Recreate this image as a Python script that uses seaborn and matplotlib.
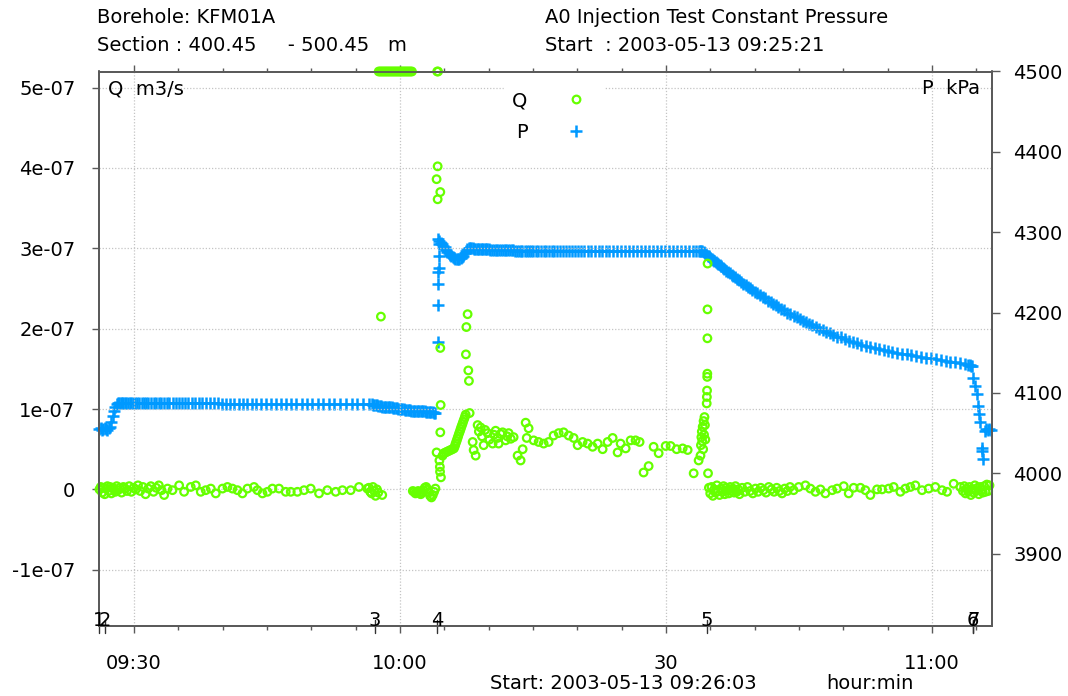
import numpy as np
import pandas as pd
import matplotlib
matplotlib.use("Agg")
import matplotlib.pyplot as plt
import matplotlib.ticker as mticker
import matplotlib.transforms as mtransforms
from matplotlib.lines import Line2D
import seaborn as sns

# ---------------------------------------------------------------------------
# Time axis: minutes after 09:00 on 2003-05-13
# ---------------------------------------------------------------------------
x_start, x_end = 26.05, 126.75
major_ticks = [30, 60, 90, 120]
major_labels = ["09:30", "10:00", "30", "11:00"]

q_lo, q_hi = -1.7e-07, 5.2e-07
q_ticks = [-1e-07, 0, 1e-07, 2e-07, 3e-07, 4e-07, 5e-07]
q_tick_labels = ["-1e-07", "0", "1e-07", "2e-07", "3e-07", "4e-07", "5e-07"]

p_lo, p_hi = 3810, 4500
p_ticks = [3900, 4000, 4100, 4200, 4300, 4400, 4500]

# test phase markers along the time axis
event_time = [26.05, 26.7, 57.15, 64.2, 94.6, 124.6, 124.66]
event_label = ["1", "2", "3", "4", "5", "6", "7"]

# ---------------------------------------------------------------------------
# Flow rate Q (units of 1e-07 m3/s); 6.5 = beyond the upper scale limit
# ---------------------------------------------------------------------------
q_time = [
    26.10, 26.25, 26.40, 26.55, 26.70, 26.85, 27.00, 27.15, 27.30, 27.45,
    27.60, 27.75, 27.90, 28.05, 28.20, 28.40, 28.60, 28.80, 29.00, 29.20,
    29.45, 29.70, 29.95, 30.20, 30.45, 30.70, 31.00, 31.30, 31.60, 31.90,
    32.20, 32.50, 32.80, 33.10, 33.40,
    33.78, 34.34, 35.09, 35.65, 36.40, 36.97, 37.53, 38.09, 38.66, 39.22,
    39.98, 40.54, 41.10, 41.67, 42.23, 42.80, 43.54, 43.92, 44.49, 45.05,
    45.61, 46.36, 47.11, 47.68, 48.43, 49.18, 49.93, 50.87, 51.81, 52.75,
    53.51, 54.44, 55.38, 56.32,
    56.50, 56.65, 56.80, 56.95, 57.10, 57.25, 57.40, 57.55, 57.85, 58.00,
    57.60, 57.75, 57.90, 58.05, 58.20, 58.35, 58.50, 58.65, 58.80, 58.95,
    59.10, 59.25, 59.40, 59.55, 59.70, 59.85, 60.00, 60.15, 60.30, 60.45,
    60.60, 60.75, 60.90, 61.05, 61.20, 61.35, 64.20, 64.30,
    61.45, 61.60, 61.75, 61.90, 62.05, 62.20, 62.35, 62.50, 62.65, 62.80,
    62.95, 63.10, 63.25, 63.40, 63.55, 63.70, 63.85, 64.00,
    64.25, 64.13, 64.55, 64.25, 64.55, 64.59, 64.55, 64.13, 64.45, 64.50,
    64.52, 64.62,
    64.80, 64.96, 65.15, 65.34, 65.53, 65.72, 65.90, 66.09, 66.20, 66.28,
    66.38, 66.47, 66.56, 66.65, 66.75, 66.84, 66.93, 67.03, 67.12, 67.22,
    67.32, 67.41,
    67.63, 67.49, 67.44, 67.71, 67.78, 67.86,
    68.20, 68.31, 68.54, 68.76, 68.90, 69.10, 69.25, 69.44, 69.60, 69.89,
    70.10, 70.45, 70.60, 70.79, 71.00, 71.13, 71.35, 71.58, 71.92, 72.10,
    72.26, 72.50, 72.82, 73.27, 73.61, 73.84, 74.18, 74.51, 74.30, 75.08,
    75.64, 76.21, 76.77, 77.33, 77.90, 78.46, 79.03, 79.59, 80.04, 80.60,
    81.17, 81.73, 82.30, 82.86, 83.42, 83.99, 84.55, 84.89, 85.46, 86.02,
    86.58, 87.03, 87.48, 88.05, 88.61, 89.18, 89.97, 90.53, 91.21, 91.89,
    92.45, 93.13, 93.69,
    93.90, 93.95, 94.00, 94.05, 94.10, 94.15, 94.20, 94.25, 94.30, 94.35,
    94.40, 94.45, 94.60, 94.62, 94.64, 94.66, 94.67, 94.68, 94.69, 94.70,
    94.75,
    94.85, 95.00, 95.15, 95.30, 95.45, 95.60, 95.75, 95.90, 96.05, 96.20,
    96.35, 96.50, 96.65, 96.80, 96.95, 97.10, 97.25, 97.40, 97.55, 97.70,
    97.85, 98.00, 98.15, 98.30, 98.60, 98.90, 99.20, 99.50, 99.80, 100.10,
    100.40, 100.70, 101.00, 101.30, 101.60, 101.90, 102.20, 102.50, 102.80,
    103.10, 103.40, 103.70, 104.00, 104.40,
    104.98, 105.74, 106.30, 106.87, 107.43, 107.99, 108.75, 109.31, 110.06,
    110.62, 111.18, 111.94, 112.50, 113.06, 113.82, 114.38, 115.13, 115.69,
    116.45, 117.01, 117.58, 118.14, 118.89, 119.64, 120.39, 121.15, 121.71,
    122.46, 123.21,
    123.50, 123.65, 123.80, 123.95, 124.10, 124.25, 124.40, 124.55, 124.70,
    124.85, 125.00, 125.15, 125.30, 125.45, 125.60, 125.75, 125.90, 126.05,
    126.20, 126.35, 126.50,
]
q_val = [
    0.00, 0.03, -0.04, 0.02, -0.06, 0.01, 0.04, -0.02, 0.03, -0.05,
    0.02, 0.00, -0.03, 0.04, -0.01, 0.02, -0.04, 0.03, 0.01, -0.02,
    0.04, -0.03, 0.02, 0.00, 0.05, -0.02, 0.03, -0.06, 0.01, 0.04,
    -0.03, 0.02, 0.05, -0.01, -0.07,
    0.01, -0.01, 0.05, -0.03, 0.03, 0.05, -0.03, -0.01, 0.01, -0.05,
    0.01, 0.03, 0.01, -0.01, -0.05, 0.01, 0.03, -0.01, -0.05, -0.03,
    0.01, 0.01, -0.03, -0.03, -0.03, -0.01, 0.01, -0.05, -0.01, -0.03,
    -0.01, -0.01, 0.03, 0.01,
    0.02, -0.03, -0.05, 0.03, -0.02, -0.08, 0.00, -0.04, 2.15, -0.07,
    6.5, 6.5, 6.5, 6.5, 6.5, 6.5, 6.5, 6.5, 6.5, 6.5,
    6.5, 6.5, 6.5, 6.5, 6.5, 6.5, 6.5, 6.5, 6.5, 6.5,
    6.5, 6.5, 6.5, 6.5, 6.5, 6.5, 6.5, 6.5,
    -0.02, -0.03, -0.05, -0.04, -0.02, -0.05, -0.06, -0.03, -0.01, 0.02,
    0.03, 0.00, -0.04, -0.08, -0.10, -0.07, -0.03, 0.01,
    4.02, 3.86, 3.70, 3.61, 1.76, 1.05, 0.71, 0.46, 0.36, 0.28,
    0.22, 0.15,
    0.42, 0.45, 0.46, 0.47, 0.48, 0.49, 0.50, 0.51, 0.54, 0.57,
    0.60, 0.63, 0.66, 0.69, 0.72, 0.75, 0.78, 0.81, 0.84, 0.87,
    0.90, 0.93,
    2.18, 2.02, 1.68, 1.48, 1.35, 0.95,
    0.59, 0.49, 0.42, 0.80, 0.72, 0.77, 0.66, 0.55, 0.74, 0.70,
    0.62, 0.57, 0.68, 0.73, 0.64, 0.57, 0.69, 0.71, 0.61, 0.66,
    0.70, 0.63, 0.65, 0.42, 0.36, 0.50, 0.83, 0.76, 0.64, 0.61,
    0.59, 0.57, 0.59, 0.67, 0.70, 0.71, 0.67, 0.64, 0.55, 0.59,
    0.57, 0.53, 0.57, 0.50, 0.59, 0.64, 0.46, 0.57, 0.51, 0.61,
    0.61, 0.59, 0.21, 0.29, 0.53, 0.45, 0.54, 0.54, 0.50, 0.51,
    0.49, 0.20, 0.36,
    0.42, 0.55, 0.65, 0.72, 0.60, 0.78, 0.50, 0.85, 0.68, 0.90,
    0.80, 0.62, 1.07, 1.15, 1.23, 1.40, 1.44, 1.88, 2.24, 2.81,
    0.20,
    0.02, -0.05, 0.03, -0.08, 0.00, -0.04, 0.05, -0.02, -0.07, 0.01,
    -0.03, 0.04, -0.06, 0.02, -0.01, -0.05, 0.03, -0.02, 0.01, -0.04,
    0.04, -0.03, 0.00, -0.06, 0.02, -0.03, 0.03, -0.02, -0.05, 0.01,
    -0.03, 0.02, -0.01, -0.04, 0.03, 0.00, -0.03, 0.02, -0.02,
    -0.05, 0.01, -0.02, 0.03, -0.01,
    0.03, 0.05, 0.01, -0.03, 0.00, -0.05, -0.01, 0.01, 0.04,
    -0.05, 0.02, 0.02, -0.01, -0.07, 0.00, 0.00, 0.01, 0.03,
    -0.03, 0.01, 0.03, 0.05, -0.01, 0.01, 0.03, -0.01, -0.03,
    0.07, 0.03,
    -0.02, 0.04, -0.05, 0.01, -0.03, 0.03, -0.07, 0.00, -0.04,
    0.05, -0.02, 0.02, -0.06, 0.03, -0.01, -0.04, 0.04, -0.03,
    0.06, -0.02, 0.05,
]

# ---------------------------------------------------------------------------
# Section pressure P (kPa)
# ---------------------------------------------------------------------------
p_time = [
    26.10, 26.25, 26.40, 26.55, 26.70, 26.85, 27.00, 27.15, 27.30, 27.45,
    27.60, 27.75, 27.90, 28.05, 28.20, 28.35, 28.50, 28.65, 28.80, 28.95,
    29.10, 29.30, 29.50, 29.70, 29.90, 30.10, 30.35, 30.60, 30.85, 31.10,
    31.35, 31.60, 31.90, 32.20, 32.50, 32.80, 33.10, 33.40, 33.70, 34.00,
    34.35, 34.70, 35.05, 35.40, 35.75, 36.10, 36.50, 36.90, 37.30, 37.70,
    38.10, 38.55, 39.00, 39.45, 39.90, 40.35, 40.80, 41.30, 41.80, 42.30,
    42.80, 43.30, 43.80, 44.35, 44.90, 45.45, 46.00, 46.55, 47.10, 47.70,
    48.30, 48.90, 49.50, 50.10, 50.70, 51.30, 51.95, 52.60, 53.25, 53.90,
    54.55, 55.20, 55.85, 56.50,
    56.80, 56.95, 57.10, 57.25, 57.40, 57.55, 57.70, 57.85, 58.00, 58.15,
    58.30, 58.45, 58.60, 58.75, 58.90, 59.05, 59.20, 59.35, 59.50, 59.65,
    59.80, 59.95, 60.10, 60.25, 60.40, 60.55, 60.70, 60.85, 61.00, 61.15,
    61.30, 61.45, 61.60, 61.75, 61.90, 62.05, 62.20, 62.35, 62.50, 62.65,
    62.80, 62.95, 63.10, 63.25, 63.40, 63.55, 63.70, 63.85, 64.00,
    64.25, 64.30, 64.32, 64.34, 64.36, 64.36, 64.36, 64.25,
    64.45, 64.60, 64.75, 64.90, 65.05, 65.20, 65.35, 65.50, 65.65, 65.80,
    65.95, 66.10, 66.25, 66.40, 66.55, 66.70, 66.85, 67.00, 67.15, 67.30,
    67.45, 67.60, 67.75, 67.90, 68.05, 68.20, 68.35, 68.50, 68.65, 68.80,
    68.95, 69.10, 69.25, 69.40, 69.55, 69.70, 69.85, 70.00, 70.20, 70.40,
    70.60, 70.80, 71.00, 71.20, 71.40, 71.60, 71.80, 72.00, 72.20, 72.40,
    72.60, 72.80, 73.00, 73.20, 73.40, 73.60, 73.80, 74.05, 74.30, 74.55,
    74.80, 75.05, 75.30, 75.60, 75.90, 76.20, 76.50, 76.80, 77.10, 77.40,
    77.70, 78.00, 78.35, 78.70, 79.05, 79.40, 79.75, 80.10, 80.45, 80.80,
    81.20, 81.60, 82.00, 82.40, 82.80, 83.20, 83.60, 84.00, 84.45, 84.90,
    85.35, 85.80, 86.25, 86.70, 87.15, 87.60, 88.05, 88.50, 88.95, 89.40,
    89.85, 90.30, 90.75, 91.20, 91.65, 92.10, 92.55, 93.00, 93.40, 93.70,
    93.90, 94.00,
    94.10, 94.25, 94.40, 94.55, 94.70, 94.85, 95.00, 95.15, 95.30, 95.45,
    95.60, 95.75, 95.90, 96.05, 96.20, 96.40, 96.60, 96.80, 97.00, 97.20,
    97.40, 97.60, 97.80, 98.00, 98.25, 98.50, 98.75, 99.00, 99.25, 99.50,
    99.75, 100.00, 100.30, 100.60, 100.90, 101.20, 101.50, 101.80, 102.10,
    102.40, 102.70, 103.00, 103.35, 103.70, 104.05, 104.40, 104.75, 105.10,
    105.45, 105.80, 106.15, 106.50, 106.90, 107.30, 107.70, 108.10, 108.50,
    108.90, 109.35, 109.80, 110.25, 110.70, 111.15, 111.60, 112.05, 112.55,
    113.05, 113.55, 114.05, 114.55, 115.05, 115.55, 116.05, 116.60, 117.15,
    117.70, 118.25, 118.80, 119.35, 119.90, 120.45, 121.00, 121.55, 122.10,
    122.65, 123.20, 123.70, 124.10, 124.30, 124.40, 124.50,
    124.61, 124.84, 125.06, 125.18, 125.29, 125.40, 125.63, 125.74, 125.63,
    125.97, 126.10, 126.30, 126.50, 126.65,
]
p_val = [
    4055, 4056, 4054, 4055, 4056, 4055, 4054, 4056, 4058, 4064,
    4071, 4077, 4083, 4086, 4087, 4088, 4088, 4088, 4088, 4088,
    4088, 4088, 4088, 4088, 4088, 4088, 4088, 4088, 4088, 4088,
    4088, 4088, 4088, 4088, 4088, 4087, 4087, 4087, 4087, 4087,
    4087, 4087, 4087, 4087, 4087, 4087, 4087, 4087, 4087, 4087,
    4087, 4087, 4087, 4087, 4086, 4086, 4086, 4086, 4086, 4086,
    4086, 4086, 4086, 4086, 4086, 4086, 4086, 4086, 4086, 4086,
    4086, 4086, 4086, 4086, 4086, 4086, 4086, 4086, 4086, 4086,
    4086, 4086, 4086, 4086,
    4086, 4085, 4085, 4085, 4085, 4084, 4084, 4084, 4083, 4083,
    4083, 4083, 4082, 4082, 4082, 4082, 4081, 4081, 4081, 4081,
    4080, 4080, 4080, 4080, 4080, 4079, 4079, 4079, 4079, 4079,
    4078, 4078, 4078, 4078, 4078, 4077, 4077, 4077, 4077, 4077,
    4077, 4076, 4076, 4076, 4076, 4076, 4076, 4075, 4075,
    4163, 4210, 4236, 4250, 4256, 4271, 4285, 4291,
    4289, 4287, 4285, 4283, 4281, 4278, 4276, 4274, 4272, 4270,
    4269, 4268, 4267, 4267, 4267, 4267, 4268, 4269, 4271, 4274,
    4277, 4279, 4280, 4280, 4280, 4280, 4279, 4279, 4279, 4279,
    4279, 4279, 4279, 4279, 4279, 4279, 4279, 4279, 4278, 4278,
    4278, 4278, 4278, 4278, 4278, 4278, 4278, 4278, 4278, 4278,
    4278, 4278, 4277, 4277, 4277, 4277, 4277, 4277, 4277, 4277,
    4277, 4277, 4277, 4277, 4277, 4277, 4277, 4277, 4277, 4277,
    4277, 4277, 4277, 4277, 4277, 4277, 4277, 4277, 4277, 4277,
    4277, 4277, 4277, 4277, 4277, 4277, 4277, 4277, 4277, 4277,
    4277, 4277, 4277, 4277, 4277, 4277, 4277, 4277, 4277, 4277,
    4277, 4277, 4277, 4277, 4277, 4277, 4277, 4277, 4277, 4277,
    4277, 4277,
    4277, 4276, 4274, 4273, 4271, 4270, 4268, 4267, 4266, 4264,
    4263, 4262, 4261, 4259, 4258, 4256, 4254, 4252, 4251, 4249,
    4247, 4245, 4244, 4242, 4240, 4238, 4236, 4234, 4232, 4230,
    4228, 4226, 4224, 4222, 4220, 4218, 4215, 4213, 4211,
    4209, 4207, 4205, 4203, 4200, 4198, 4196, 4194, 4192,
    4190, 4188, 4186, 4184, 4182, 4180, 4178, 4176, 4174,
    4172, 4170, 4169, 4167, 4165, 4163, 4162, 4160, 4159,
    4157, 4156, 4155, 4154, 4152, 4151, 4150, 4149, 4148,
    4147, 4146, 4145, 4144, 4143, 4142, 4141, 4140, 4139,
    4138, 4137, 4136, 4135, 4135, 4134, 4134,
    4119, 4109, 4099, 4084, 4074, 4064, 4032, 4018, 4028,
    4053, 4055, 4054, 4055, 4054,
]

GREEN = "#66ff00"
BLUE = "#0099ff"
FRAME = "#5a5a5a"

sns.set_theme(style="ticks")
plt.rcParams["font.family"] = ["DejaVu Sans"]
plt.rcParams["font.size"] = 14
plt.rcParams["text.color"] = "black"
plt.rcParams["xtick.labelcolor"] = "black"
plt.rcParams["ytick.labelcolor"] = "black"

q_df = pd.DataFrame({"time": q_time, "Q": np.array(q_val) * 1e-07})
q_df["Q_shown"] = q_df["Q"].clip(upper=q_hi)   # off-scale flow sits on the frame
p_df = pd.DataFrame({"time": p_time, "P": p_val})

fig = plt.figure(figsize=(10.68, 6.96), dpi=100)
ax = fig.add_axes([99 / 1068, 70 / 696, 892.7 / 1068, 554.5 / 696])
ax2 = ax.twinx()

sns.scatterplot(data=p_df, x="time", y="P", ax=ax2, marker="+", s=78,
                linewidth=1.8, color=BLUE, legend=False)
sns.scatterplot(data=q_df, x="time", y="Q_shown", ax=ax, marker="o", s=30,
                color=GREEN, legend=False)
for coll in ax.collections:
    coll.set_facecolor("none")
    coll.set_edgecolor(GREEN)
    coll.set_linewidth(1.6)
    coll.set_clip_on(False)
for coll in ax2.collections:
    coll.set_edgecolor(BLUE)
    coll.set_facecolor(BLUE)
    coll.set_clip_on(False)

# Q axis sits above the P axis so the circles stay visible
ax.set_zorder(ax2.get_zorder() + 1)
ax.patch.set_visible(False)

ax.set_xlim(x_start, x_end)
ax.set_ylim(q_lo, q_hi)
ax2.set_ylim(p_lo, p_hi)

ax.xaxis.set_major_locator(mticker.FixedLocator(major_ticks))
ax.xaxis.set_major_formatter(mticker.FixedFormatter(major_labels))
ax.xaxis.set_minor_locator(mticker.MultipleLocator(5))
ax.yaxis.set_major_locator(mticker.FixedLocator(q_ticks))
ax.yaxis.set_major_formatter(mticker.FixedFormatter(q_tick_labels))
ax2.yaxis.set_major_locator(mticker.FixedLocator(p_ticks))

ax.set_xlabel("")
ax.set_ylabel("")
ax2.set_ylabel("")

ax.grid(True, which="major", color="#c4c4c4", linestyle=(0, (1, 1.5)), linewidth=0.9)
ax2.grid(False)

ax.tick_params(axis="x", which="major", direction="out", top=True, bottom=True,
               length=5, width=1.0, color=FRAME, pad=15.5, labelsize=14)
ax.tick_params(axis="x", which="minor", direction="out", top=True, bottom=True,
               length=3, width=1.0, color=FRAME)
ax.tick_params(axis="y", which="major", direction="out", left=True, right=False,
               length=5, width=1.0, color=FRAME, pad=12, labelsize=14)
ax2.tick_params(axis="y", which="major", direction="out", right=True, left=False,
                length=5.5, width=1.0, color=FRAME, pad=10, labelsize=14)

for a in (ax, ax2):
    for sp in a.spines.values():
        sp.set_color(FRAME)
        sp.set_linewidth(1.3)

# phase markers on the time axis
blend = mtransforms.blended_transform_factory(ax.transData, ax.transAxes)
for t, lab in zip(event_time, event_label):
    ax.plot([t, t], [-0.012, 0.01], color="#333333", lw=1.0, transform=blend,
            clip_on=False)
    ax.text(t, 0.0, lab, transform=blend, ha="center", va="baseline",
            fontsize=14, color="black", clip_on=False)

# axis captions inside the frame
ax.text(0.0104, 0.9594, "Q  m3/s", transform=ax.transAxes, ha="left", va="baseline")
ax.text(0.9869, 0.9594, "P  kPa", transform=ax.transAxes, ha="right", va="baseline")

# legend: label left, symbol right
handles = [
    Line2D([], [], ls="", marker="o", mfc="none", mec=GREEN, ms=5.5, mew=1.6),
    Line2D([], [], ls="", marker="+", color=BLUE, ms=9, mew=1.8),
]
leg = ax.legend(handles, ["Q", "P"], loc="upper left", bbox_to_anchor=(0.443, 0.996),
                markerfirst=False, frameon=True, facecolor="white", edgecolor="white",
                framealpha=1.0, fancybox=False, fontsize=14, handlelength=2.0,
                handletextpad=1.5, labelspacing=0.65, borderpad=0.4)

# header and footer text
fig.text(97 / 1068, 0.9665, "Borehole: KFM01A", ha="left", va="baseline", fontsize=14)
fig.text(97 / 1068, 0.9272, "Section : 400.45     - 500.45   m", ha="left",
         va="baseline", fontsize=14)
fig.text(545 / 1068, 0.9665, "A0 Injection Test Constant Pressure", ha="left",
         va="baseline", fontsize=14)
fig.text(545 / 1068, 0.9272, "Start  : 2003-05-13 09:25:21", ha="left",
         va="baseline", fontsize=14)
fig.text(490 / 1068, 0.0095, "Start: 2003-05-13 09:26:03", ha="left",
         va="baseline", fontsize=14)
fig.text(826 / 1068, 0.0095, "hour:min", ha="left", va="baseline", fontsize=14)

fig.savefig("out.png", dpi=100, facecolor="white")
